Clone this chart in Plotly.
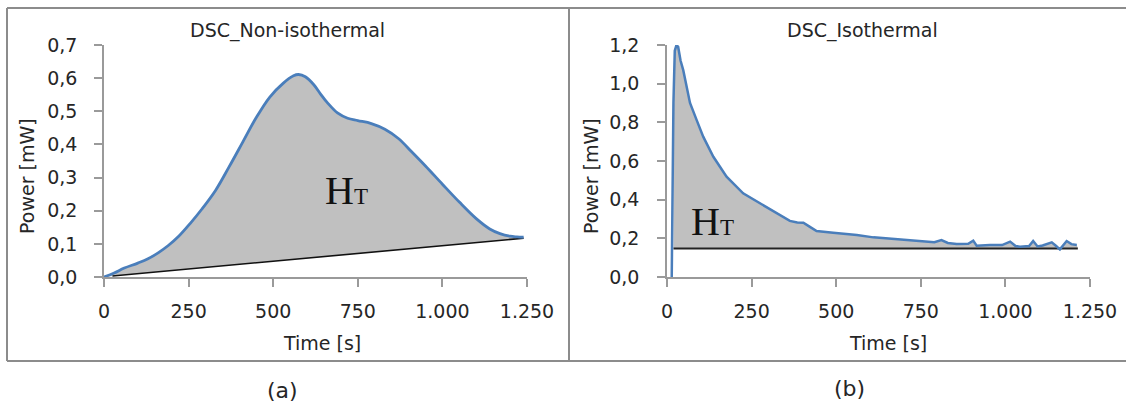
import plotly.graph_objects as go

W, H = 1126, 407

# ---- Data: (a) DSC non-isothermal ----
time_a = [0, 30, 60, 100, 130, 160, 190, 220, 255, 290, 330, 370, 410, 450, 490, 530,
          560, 575, 595, 620, 640, 660, 690, 720, 750, 790, 830, 870, 910, 950, 1000,
          1050, 1100, 1140, 1170, 1200, 1220, 1240]
power_a = [0.0, 0.012, 0.027, 0.042, 0.055, 0.073, 0.095, 0.122, 0.162, 0.206, 0.262,
           0.333, 0.407, 0.481, 0.543, 0.585, 0.607, 0.611, 0.604, 0.580, 0.552, 0.526,
           0.495, 0.479, 0.472, 0.463, 0.446, 0.418, 0.377, 0.335, 0.280, 0.226, 0.176,
           0.145, 0.131, 0.123, 0.121, 0.120]
base_a_time = [25, 1240]
base_a_power = [0.003, 0.117]

# ---- Data: (b) DSC isothermal ----
time_b = [14, 19, 23, 28, 33, 40, 48, 58, 68, 88, 107, 137, 176, 225, 275, 324, 363,
          385, 403, 420, 442, 491, 541, 561, 610, 659, 708, 757, 790, 811, 830, 856,
          890, 905, 915, 954, 990, 1014, 1030, 1043, 1070, 1082, 1095, 1110, 1137,
          1150, 1161, 1181, 1195, 1211]
power_b = [0.0, 0.90, 1.17, 1.20, 1.19, 1.12, 1.07, 0.985, 0.90, 0.81, 0.726, 0.622,
           0.519, 0.433, 0.381, 0.330, 0.290, 0.282, 0.281, 0.262, 0.238, 0.229, 0.222,
           0.217, 0.205, 0.198, 0.188, 0.181, 0.180, 0.191, 0.176, 0.171, 0.172, 0.188,
           0.162, 0.166, 0.165, 0.183, 0.160, 0.157, 0.160, 0.186, 0.158, 0.163, 0.179,
           0.160, 0.143, 0.186, 0.170, 0.166]
base_b_time = [19, 1214]
base_b_power = [0.148, 0.148]

xticks = [0, 250, 500, 750, 1000, 1250]
titles = ["DSC_Non-isothermal", "DSC_Isothermal"]
panel_labels = ["(a)", "(b)"]

BLUE = "#4a7ebb"
FILL = "#c0c0c0"
AXIS = "#9a9a9a"
TXT = "#262626"
FONT = "DejaVu Sans"

fig = go.Figure()

# (a) baseline, then smoothed curve filled down to the baseline
fig.add_trace(go.Scatter(x=base_a_time, y=base_a_power, mode="lines",
                         line=dict(color="#111111", width=1.6),
                         xaxis="x", yaxis="y", showlegend=False))
fig.add_trace(go.Scatter(x=time_a, y=power_a, mode="lines", fill="tonexty",
                         fillcolor=FILL,
                         line=dict(color=BLUE, width=2.8, shape="spline"),
                         xaxis="x", yaxis="y", showlegend=False))

# (b)
fig.add_trace(go.Scatter(
    x=base_b_time[:1] + time_b[1:] + base_b_time[::-1],
    y=base_b_power[:1] + power_b[1:] + base_b_power[::-1],
    fill="toself", fillcolor=FILL, mode="lines", line=dict(width=0),
    xaxis="x2", yaxis="y2", hoverinfo="skip", showlegend=False))
fig.add_trace(go.Scatter(x=base_b_time, y=base_b_power, mode="lines",
                         line=dict(color="#222222", width=2),
                         xaxis="x2", yaxis="y2", showlegend=False))
fig.add_trace(go.Scatter(x=time_b, y=power_b, mode="lines",
                         line=dict(color=BLUE, width=2.5),
                         xaxis="x2", yaxis="y2", showlegend=False))


def px_x(p):
    return p / W


def px_y(p):
    return 1 - p / H


ydom = [px_y(277), px_y(45)]
axis_common = dict(showline=True, linecolor=AXIS, linewidth=1.5, ticks="outside",
                   ticklen=8, tickwidth=1.5, tickcolor=AXIS, showgrid=False,
                   zeroline=False, automargin=False,
                   tickfont=dict(family=FONT, size=19, color=TXT))

fig.update_layout(
    width=W, height=H, margin=dict(l=0, r=0, t=0, b=0, pad=0, autoexpand=False),
    paper_bgcolor="white", plot_bgcolor="white", separators=",.",
    xaxis=dict(domain=[px_x(104), px_x(527)], range=[0, 1250], tickvals=xticks,
               tickformat=",d", anchor="y", ticklabelstandoff=8, **axis_common),
    yaxis=dict(domain=ydom, range=[0, 0.7], dtick=0.1, tick0=0, tickformat=".1f",
               anchor="x", ticklabelstandoff=13, **axis_common),
    xaxis2=dict(domain=[px_x(667), px_x(1090)], range=[0, 1250], tickvals=xticks,
                tickformat=",d", anchor="y2", ticklabelstandoff=8, **axis_common),
    yaxis2=dict(domain=ydom, range=[0, 1.2], dtick=0.2, tick0=0, tickformat=".1f",
                anchor="x2", ticklabelstandoff=14, **axis_common),
)

annots = []


def text(x, y, s, size, angle=0, family=FONT):
    annots.append(dict(x=px_x(x), y=px_y(y), xref="paper", yref="paper", text=s,
                       showarrow=False, textangle=angle, xanchor="center",
                       yanchor="middle", font=dict(family=family, size=size, color=TXT)))


text(287, 30, titles[0], 19)
text(862, 30, titles[1], 19)
text(322, 343, "Time [s]", 19)
text(888, 343, "Time [s]", 19)
text(27, 176, "Power [mW]", 19, angle=-90)
text(591, 176, "Power [mW]", 19, angle=-90)
text(283, 390, panel_labels[0], 22)
text(849, 388, panel_labels[1], 22)

ht = "H<span style='font-size:23px'>T</span>"
annots.append(dict(x=px_x(323), y=px_y(190), xref="paper", yref="paper", text=ht,
                   showarrow=False, font=dict(family="Liberation Serif", size=40, color="#111")))
annots.append(dict(x=px_x(712), y=px_y(222), xref="paper", yref="paper", text=ht,
                   showarrow=False, font=dict(family="Liberation Serif", size=40, color="#111")))
fig.update_layout(annotations=annots)

# outer frame and divider
FR = "#8c8c8c"
shapes = []
for x0, y0, x1, y1 in [(7, 8, 1126, 8), (7, 361, 1126, 361), (7, 8, 7, 361), (569, 8, 569, 361)]:
    shapes.append(dict(type="line", xref="paper", yref="paper",
                       x0=px_x(x0), y0=px_y(y0), x1=px_x(x1), y1=px_y(y1),
                       line=dict(color=FR, width=2)))
fig.update_layout(shapes=shapes)

fig.write_html("out.html", config={"displayModeBar": False},
               post_script="document.body.style.margin='0';document.body.style.overflow='hidden';")
